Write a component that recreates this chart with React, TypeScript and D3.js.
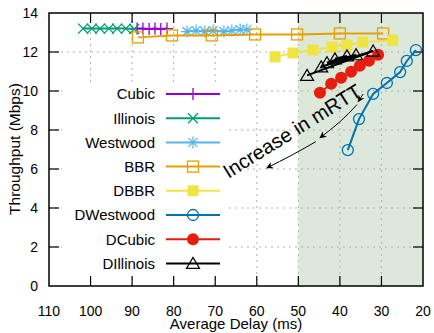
import * as d3 from "d3";

// values (x: average delay ms, y: throughput Mbps)
const cubicDelay = [88.8, 87.4, 85.9, 84.5, 83.1, 81.6];
const cubicTput = [13.2, 13.2, 13.18, 13.2, 13.18, 13.2];
const illinoisDelay = [101.8, 99.7, 97.7, 95.6, 93.6, 91.5, 89.5];
const illinoisTput = [13.2, 13.2, 13.2, 13.2, 13.2, 13.2, 13.18];
const westwoodDelay = [76.8, 74.6, 72.5, 70.5, 67.9, 66.0, 64.0, 62.4];
const westwoodTput = [13.05, 13.1, 13.05, 13.1, 13.05, 13.1, 13.15, 13.15];
const bbrDelay = [88.6, 80.4, 70.8, 60.4, 50.3, 40.0, 29.6];
const bbrTput = [12.75, 12.85, 12.85, 12.9, 12.9, 12.95, 12.95];
const dbbrDelay = [55.6, 51.3, 46.5, 41.9, 38.3, 34.5, 27.3];
const dbbrTput = [11.75, 11.95, 12.1, 12.25, 12.35, 12.5, 12.6];
const dwestwoodDelay = [38.1, 35.4, 32.0, 28.7, 25.5, 23.9, 21.7];
const dwestwoodTput = [6.97, 8.56, 9.85, 10.41, 10.97, 11.54, 12.1];
const dcubicDelay = [44.8, 42.1, 39.7, 37.3, 35.2, 33.0, 30.8];
const dcubicTput = [9.91, 10.37, 10.68, 10.99, 11.29, 11.55, 11.86];
const dillinoisDelay = [47.9, 32.0, 44.5, 36.1, 43.1, 38.3, 41.2];
const dillinoisTput = [10.8, 12.05, 11.24, 11.86, 11.45, 11.8, 11.65];

const xTicks = [110, 100, 90, 80, 70, 60, 50, 40, 30, 20];
const yTicks = [0, 2, 4, 6, 8, 10, 12, 14];

type Series = { name: string; color: string; marker: string; xs: number[]; ys: number[] };

const series: Series[] = [
  { name: "Cubic", color: "#9400d3", marker: "plus", xs: cubicDelay, ys: cubicTput },
  { name: "Illinois", color: "#009e73", marker: "cross", xs: illinoisDelay, ys: illinoisTput },
  { name: "Westwood", color: "#56b4e9", marker: "star", xs: westwoodDelay, ys: westwoodTput },
  { name: "BBR", color: "#e69f00", marker: "square", xs: bbrDelay, ys: bbrTput },
  { name: "DBBR", color: "#f0e442", marker: "squareFill", xs: dbbrDelay, ys: dbbrTput },
  { name: "DWestwood", color: "#0072b2", marker: "circle", xs: dwestwoodDelay, ys: dwestwoodTput },
  { name: "DCubic", color: "#e51e10", marker: "circleFill", xs: dcubicDelay, ys: dcubicTput },
  { name: "DIllinois", color: "#000000", marker: "triangle", xs: dillinoisDelay, ys: dillinoisTput },
];

// the curved "Increase in mRTT" arrows, in data units
const arrowSegs: [number, number][][] = [
  [[34.4, 9.85], [35.6, 9.45]],
  [[35.9, 9.3], [40.0, 8.42], [44.8, 7.6]],
  [[45.8, 7.4], [51.5, 6.72], [57.6, 6.05]],
];

const W = 434;
const H = 333;
const margin = { top: 13, right: 11, bottom: 47, left: 49 };
const font = "'Liberation Sans', Arial, sans-serif";

const Marker = ({ kind, color, x, y }: { kind: string; color: string; x: number; y: number }) => {
  const t = `translate(${x},${y})`;
  switch (kind) {
    case "plus":
      return <path transform={t} d="M-6,0H6M0,-6V6" stroke={color} strokeWidth={1.3} fill="none" />;
    case "cross":
      return <path transform={t} d="M-5,-5L5,5M-5,5L5,-5" stroke={color} strokeWidth={1.3} fill="none" />;
    case "star":
      return <path transform={t} d="M-6,0H6M0,-6V6M-4.5,-4.5L4.5,4.5M-4.5,4.5L4.5,-4.5" stroke={color} strokeWidth={1.2} fill="none" />;
    case "square":
      return <rect transform={t} x={-5.5} y={-5.5} width={11} height={11} stroke={color} strokeWidth={1.3} fill="none" />;
    case "squareFill":
      return <rect transform={t} x={-5.5} y={-5.5} width={11} height={11} fill={color} />;
    case "circle":
      return <circle transform={t} r={5.5} stroke={color} strokeWidth={1.3} fill="none" />;
    case "circleFill":
      return <circle transform={t} r={6} fill={color} />;
    default:
      return <path transform={t} d="M0,-6L6.5,5L-6.5,5Z" stroke={color} strokeWidth={1.2} fill="none" />;
  }
};

export default function App() {
  const x = d3.scaleLinear().domain([110, 20]).range([margin.left, W - margin.right]);
  const y = d3.scaleLinear().domain([0, 14]).range([H - margin.bottom, margin.top]);
  const x0 = x(110), x1 = x(20), y0 = y(0), y1 = y(14);

  const line = d3.line<[number, number]>().x((d) => x(d[0])).y((d) => y(d[1]));
  const curve = d3
    .line<[number, number]>()
    .x((d) => x(d[0]))
    .y((d) => y(d[1]))
    .curve(d3.curveNatural);

  const legendRows = series.map((s, i) => ({ ...s, ly: 94 + i * 24.2 }));

  return (
    <svg width={W} height={H} style={{ position: "absolute", left: 0, top: 0, background: "#fff" }} fontFamily={font}>
      <defs>
        <marker id="ah" viewBox="0 0 10 10" refX={9} refY={5} markerWidth={9} markerHeight={7} orient="auto" markerUnits="userSpaceOnUse">
          <path d="M0,0L10,5L0,10L3,5Z" fill="#000" />
        </marker>
      </defs>
      {/* shaded low-delay region */}
      <rect x={x(50)} y={y1} width={x1 - x(50)} height={y0 - y1} fill="#dce8d9" />
      {/* grid */}
      {xTicks.slice(1, -1).map((t) => (
        <line key={"gx" + t} x1={x(t)} x2={x(t)} y1={y0} y2={y1} stroke="#b0b0b0" strokeDasharray="2,4" />
      ))}
      {yTicks.slice(1, -1).map((t) => (
        <line key={"gy" + t} x1={x0} x2={x1} y1={y(t)} y2={y(t)} stroke="#b0b0b0" strokeDasharray="2,4" />
      ))}
      {/* legend box */}
      <rect x={62} y={82} width={164} height={194} fill="#fff" />
      {/* ticks */}
      {xTicks.slice(1, -1).map((t) => (
        <g key={"tx" + t} stroke="#000" strokeWidth={1.2}>
          <line x1={x(t)} x2={x(t)} y1={y0} y2={y0 - 10} />
          <line x1={x(t)} x2={x(t)} y1={y1} y2={y1 + 10} />
        </g>
      ))}
      {yTicks.slice(1, -1).map((t) => (
        <g key={"ty" + t} stroke="#000" strokeWidth={1.2}>
          <line x1={x0} x2={x0 + 10} y1={y(t)} y2={y(t)} />
          <line x1={x1} x2={x1 - 10} y1={y(t)} y2={y(t)} />
        </g>
      ))}
      {xTicks.map((t) => (
        <text key={"lx" + t} x={x(t)} y={y0 + 30} textAnchor="middle" fontSize={14} fill="#000">
          {t}
        </text>
      ))}
      {yTicks.map((t) => (
        <text key={"ly" + t} x={38} y={y(t)} dy="0.36em" textAnchor="end" fontSize={14} fill="#000">
          {t}
        </text>
      ))}
      {/* series */}
      {series.map((s) => {
        const pts = s.xs.map((v, i) => [v, s.ys[i]] as [number, number]);
        return (
          <g key={s.name}>
            <path d={line(pts) || ""} fill="none" stroke={s.color} strokeWidth={2} />
            {pts.map((p, i) => (
              <Marker key={i} kind={s.marker} color={s.color} x={x(p[0])} y={y(p[1])} />
            ))}
          </g>
        );
      })}
      {/* legend */}
      {legendRows.map((s) => (
        <g key={"leg" + s.name}>
          <text x={155} y={s.ly} dy="0.36em" textAnchor="end" fontSize={15} fill="#000">
            {s.name}
          </text>
          <line x1={166} x2={220} y1={s.ly} y2={s.ly} stroke={s.color} strokeWidth={2} />
          <Marker kind={s.marker} color={s.color} x={193} y={s.ly} />
        </g>
      ))}
      {/* annotation */}
      {arrowSegs.map((seg, i) => (
        <path key={"ar" + i} d={curve(seg) || ""} fill="none" stroke="#000" strokeWidth={1} markerEnd="url(#ah)" />
      ))}
      <text
        x={x(51.5)}
        y={y(7.95)}
        dy="0.35em"
        textAnchor="middle"
        fontSize={20}
        fill="#000"
        transform={`rotate(-32,${x(51.5)},${y(7.95)})`}
      >
        Increase in mRTT
      </text>
      {/* frame */}
      <rect x={x0} y={y1} width={x1 - x0} height={y0 - y1} fill="none" stroke="#000" strokeWidth={1.5} />
      {/* axis titles */}
      <text x={236} y={329} textAnchor="middle" fontSize={15} fill="#000">
        Average Delay (ms)
      </text>
      <text x={0} y={0} textAnchor="middle" fontSize={15.5} fill="#000" transform={`translate(20,149) rotate(-90)`}>
        Throughput (Mbps)
      </text>
    </svg>
  );
}
